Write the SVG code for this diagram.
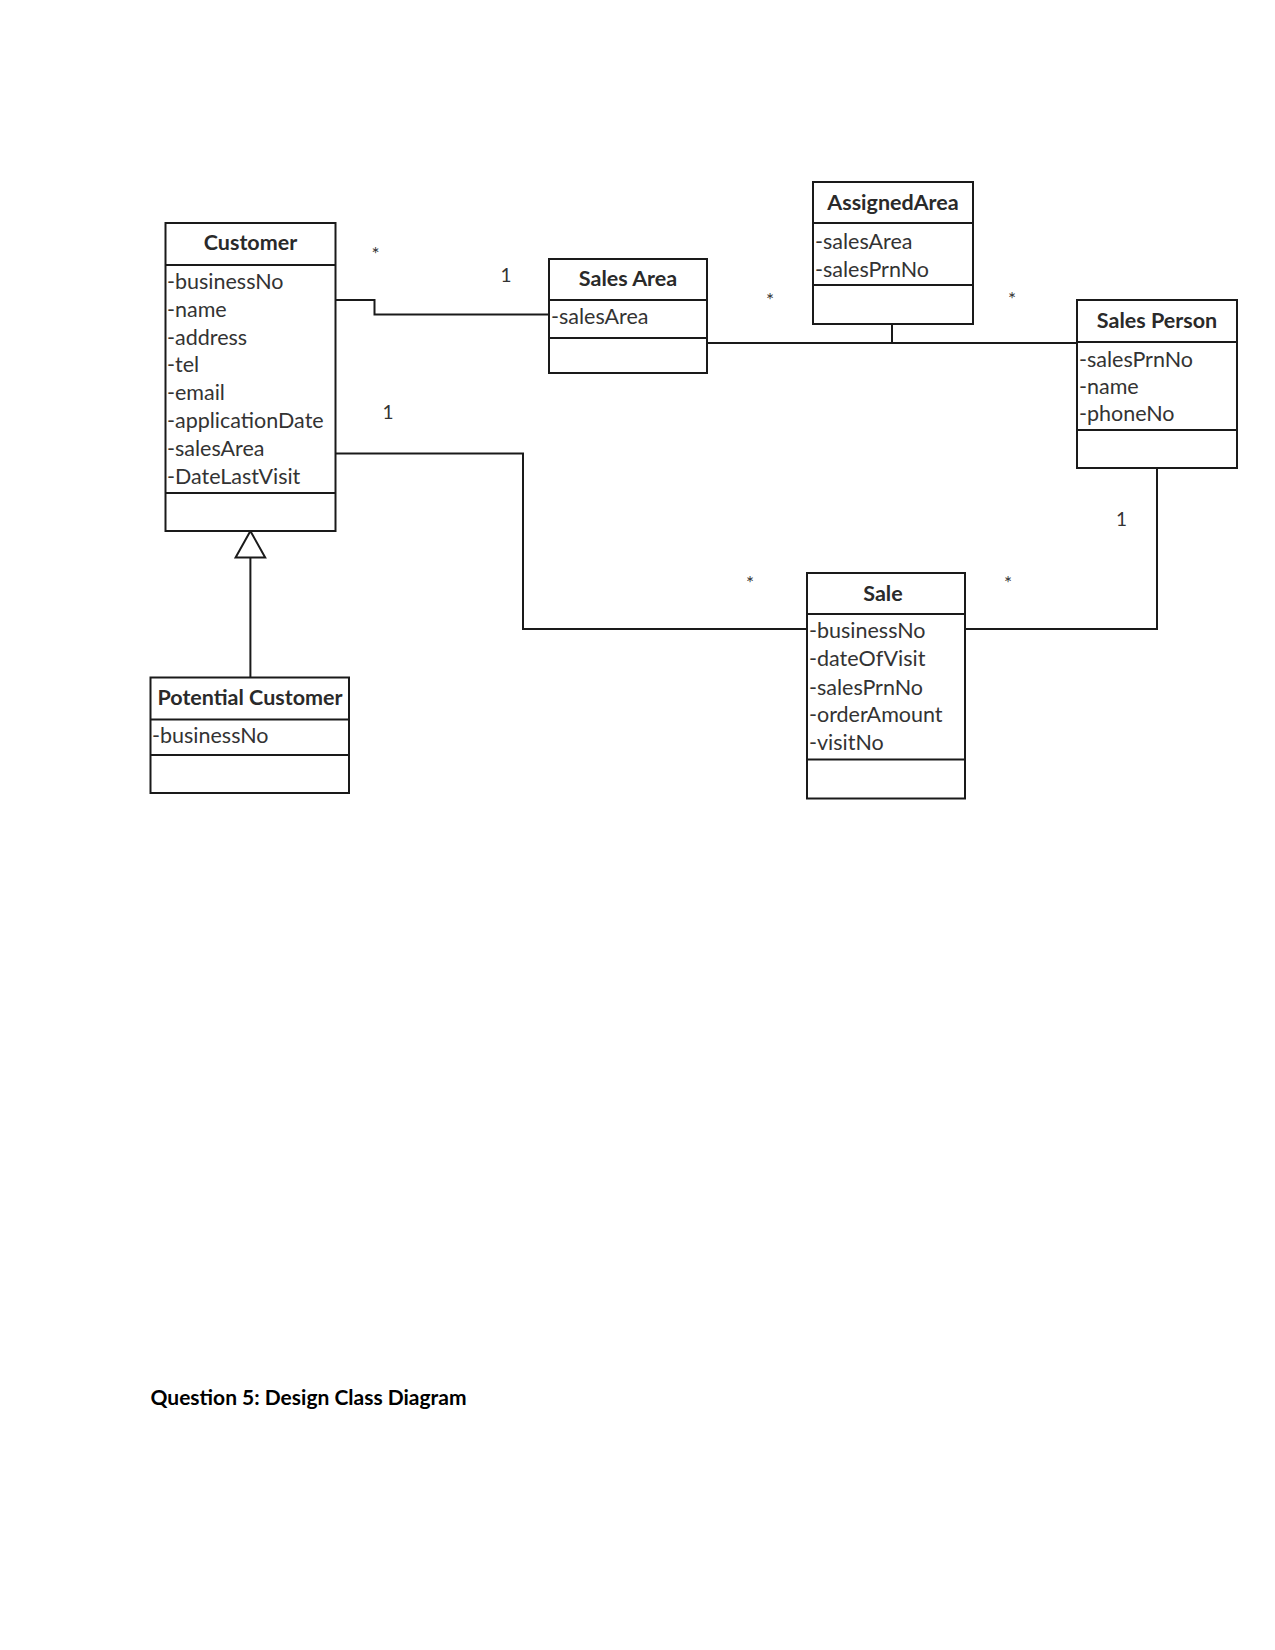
<svg xmlns="http://www.w3.org/2000/svg" width="1275" height="1650" viewBox="0 0 1275 1650">
<style>
.box{fill:#fff;stroke:#1a1a1a;stroke-width:2}
.sep{stroke:#1a1a1a;stroke-width:2}
.title{font-family:Lato,"Liberation Sans",sans-serif;font-weight:bold;font-size:21.5px;fill:#2a2a2a;text-anchor:middle}
.attr{font-family:Lato,"Liberation Sans",sans-serif;font-size:21.5px;fill:#333}
.mult{font-family:Lato,"Liberation Sans",sans-serif;font-size:19px;fill:#333;text-anchor:middle}
.conn{fill:none;stroke:#1a1a1a;stroke-width:2}
.footer{font-family:Lato,"Liberation Sans",sans-serif;font-weight:bold;font-size:20px;fill:#000}
</style>
<rect width="1275" height="1650" fill="#fff"/>
<g id="connectors">
<polyline class="conn" points="335.6,300 374.5,300 374.5,314.5 549,314.5"/>
<polyline class="conn" points="335.6,453.4 523,453.4 523,629 807,629"/>
<polyline class="conn" points="965,629 1157,629 1157,468"/>
<line class="conn" x1="707" y1="343" x2="1077" y2="343"/>
<line class="conn" x1="892" y1="324" x2="892" y2="343"/>
<line class="conn" x1="250.4" y1="557.5" x2="250.4" y2="677.5"/>
<polygon class="conn" fill="#fff" points="250.4,531 235.6,557.5 265.2,557.5"/>
<text class="mult" x="375.6" y="261">*</text>
<text class="mult" x="506" y="282">1</text>
<text class="mult" x="388" y="419">1</text>
<text class="mult" x="750" y="590">*</text>
<text class="mult" x="1008" y="590">*</text>
<text class="mult" x="1121.5" y="526">1</text>
<text class="mult" x="770" y="307">*</text>
<text class="mult" x="1012" y="306">*</text>
</g>
<g id="customer">
<rect class="box" x="165.5" y="223" width="170" height="308"/>
<line class="sep" x1="165.5" y1="265" x2="335.5" y2="265"/>
<line class="sep" x1="165.5" y1="493" x2="335.5" y2="493"/>
<text class="title" x="250.5" y="250">Customer</text>
<text class="attr" x="167" y="289">-businessNo</text>
<text class="attr" x="167" y="316.8">-name</text>
<text class="attr" x="167" y="344.6">-address</text>
<text class="attr" x="167" y="372.4">-tel</text>
<text class="attr" x="167" y="400.2">-email</text>
<text class="attr" x="167" y="428">-applicationDate</text>
<text class="attr" x="167" y="455.8">-salesArea</text>
<text class="attr" x="167" y="483.6">-DateLastVisit</text>
</g>
<g id="sales-area">
<rect class="box" x="549" y="259" width="158" height="114"/>
<line class="sep" x1="549" y1="300" x2="707" y2="300"/>
<line class="sep" x1="549" y1="338" x2="707" y2="338"/>
<text class="title" x="628" y="286">Sales Area</text>
<text class="attr" x="551" y="324">-salesArea</text>
</g>
<g id="assigned-area">
<rect class="box" x="813" y="182" width="160" height="142"/>
<line class="sep" x1="813" y1="223" x2="973" y2="223"/>
<line class="sep" x1="813" y1="285" x2="973" y2="285"/>
<text class="title" x="893" y="210">AssignedArea</text>
<text class="attr" x="815" y="248.5">-salesArea</text>
<text class="attr" x="815" y="276.5">-salesPrnNo</text>
</g>
<g id="sales-person">
<rect class="box" x="1077" y="300" width="160" height="168"/>
<line class="sep" x1="1077" y1="342" x2="1237" y2="342"/>
<line class="sep" x1="1077" y1="430" x2="1237" y2="430"/>
<text class="title" x="1157" y="328">Sales Person</text>
<text class="attr" x="1079" y="366.5">-salesPrnNo</text>
<text class="attr" x="1079" y="393.5">-name</text>
<text class="attr" x="1079" y="420.5">-phoneNo</text>
</g>
<g id="sale">
<rect class="box" x="807" y="573" width="158" height="225.5"/>
<line class="sep" x1="807" y1="614" x2="965" y2="614"/>
<line class="sep" x1="807" y1="759.5" x2="965" y2="759.5"/>
<text class="title" x="883" y="601">Sale</text>
<text class="attr" x="809" y="637.5">-businessNo</text>
<text class="attr" x="809" y="666">-dateOfVisit</text>
<text class="attr" x="809" y="694.5">-salesPrnNo</text>
<text class="attr" x="809" y="721.5">-orderAmount</text>
<text class="attr" x="809" y="750">-visitNo</text>
</g>
<g id="potential-customer">
<rect class="box" x="150.5" y="677.5" width="198.5" height="115.5"/>
<line class="sep" x1="150.5" y1="719.5" x2="349" y2="719.5"/>
<line class="sep" x1="150.5" y1="755" x2="349" y2="755"/>
<text class="title" x="250" y="705">Potential Customer</text>
<text class="attr" x="152" y="742.5">-businessNo</text>
</g>
<text class="footer" x="150.5" y="1405" textLength="316" lengthAdjust="spacingAndGlyphs">Question 5: Design Class Diagram</text>
</svg>
